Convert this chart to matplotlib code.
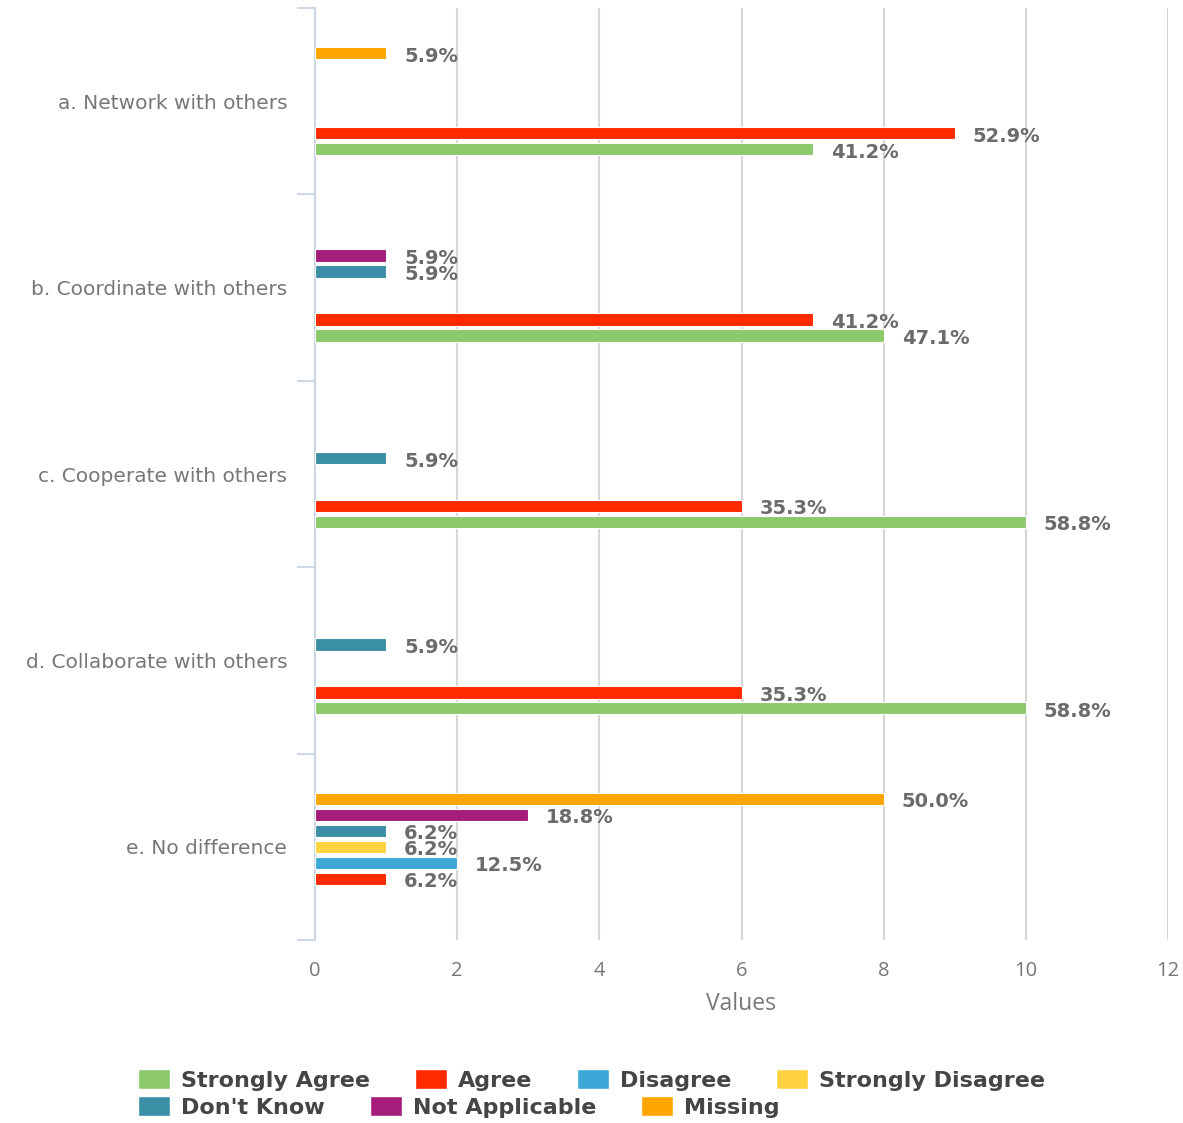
import matplotlib.pyplot as plt
import numpy as np
from matplotlib.patches import Patch

plt.rcParams["font.family"] = ["DejaVu Sans"]

categories = [
    "a. Network with others",
    "b. Coordinate with others",
    "c. Cooperate with others",
    "d. Collaborate with others",
    "e. No difference",
]
series = ["Strongly Agree", "Agree", "Disagree", "Strongly Disagree",
          "Don't Know", "Not Applicable", "Missing"]
colors = ["#8CC96B", "#FF2A00", "#3BA8D8", "#FFD23F",
          "#3A8FA6", "#A41D7A", "#FFA500"]

# response counts per category, one list per series
strongly_agree = [7, 8, 10, 10, 0]
agree = [9, 7, 6, 6, 1]
disagree = [0, 0, 0, 0, 2]
strongly_disagree = [0, 0, 0, 0, 1]
dont_know = [0, 1, 1, 1, 1]
not_applicable = [0, 1, 0, 0, 3]
missing = [1, 0, 0, 0, 8]

counts = np.array([strongly_agree, agree, disagree, strongly_disagree,
                   dont_know, not_applicable, missing], dtype=float)
totals = counts.sum(axis=0)

W, H, DPI = 1183, 1123, 100
fig = plt.figure(figsize=(W / DPI, H / DPI), dpi=DPI)
ax = fig.add_axes([315 / W, 1 - 940 / H, (1168 - 315) / W, (940 - 8) / H])

n = len(series)
slot = 0.6 / n
bar_h = 0.066
y = np.arange(len(categories))

for i in range(n):
    offs = (n // 2 - i) * slot
    for j in range(len(categories)):
        v = counts[i, j]
        if v <= 0:
            continue
        ax.barh(y[j] + offs, v, height=bar_h, color=colors[i],
                edgecolor="white", linewidth=0.8, zorder=3)
        pct = v / totals[j] * 100
        ax.annotate(f"{pct:.1f}%", xy=(v, y[j] + offs), xytext=(18, -3),
                    textcoords="offset pixels", ha="left", va="center",
                    fontsize=14, fontweight="bold", color="#6b6b6b", zorder=4)

ax.set_xlim(0, 12)
ax.set_ylim(len(categories) - 0.5, -0.5)
ax.set_xticks(np.arange(0, 13, 2))
ax.tick_params(axis="x", length=0, pad=15)
for lbl in ax.get_xticklabels():
    lbl.set_fontfamily("Open Sans")
    lbl.set_fontsize(14.5)
    lbl.set_color("#777777")
ax.xaxis.grid(True, color="#d6d6d6", linewidth=1.5, zorder=0)
ax.set_axisbelow(True)
ax.set_xlabel("Values", fontsize=16.5, color="#777777", labelpad=8,
              fontfamily="Open Sans")

# category boundaries as major ticks, labels on minor ticks at band centres
ax.set_yticks(np.arange(-0.5, len(categories)), labels=[""] * (len(categories) + 1))
ax.set_yticks(y, labels=categories, minor=True)
ax.tick_params(axis="y", which="major", length=13, width=1.3, color="#c9d6e6")
ax.tick_params(axis="y", which="minor", length=0, pad=20,
               labelsize=14.5, labelcolor="#777777")

for side in ["top", "right", "bottom"]:
    ax.spines[side].set_visible(False)
ax.spines["left"].set_color("#c9d6e6")
ax.spines["left"].set_linewidth(1.5)

handles = [Patch(facecolor=c, edgecolor="white", label=s) for s, c in zip(series, colors)]
leg_kw = dict(frameon=False, handlelength=1.45, handleheight=1.0, handletextpad=0.5,
              columnspacing=2.0, borderaxespad=0, borderpad=0, labelspacing=0,
              prop={"size": 16, "weight": "bold"}, labelcolor="#454545")
fig.legend(handles=handles[:4], ncol=4, loc="upper left",
           bbox_to_anchor=(138 / W, 1 - 1069 / H), **leg_kw)
fig.legend(handles=handles[4:], ncol=3, loc="upper left",
           bbox_to_anchor=(138 / W, 1 - 1096 / H), **leg_kw)

fig.savefig("out.png", dpi=DPI)
